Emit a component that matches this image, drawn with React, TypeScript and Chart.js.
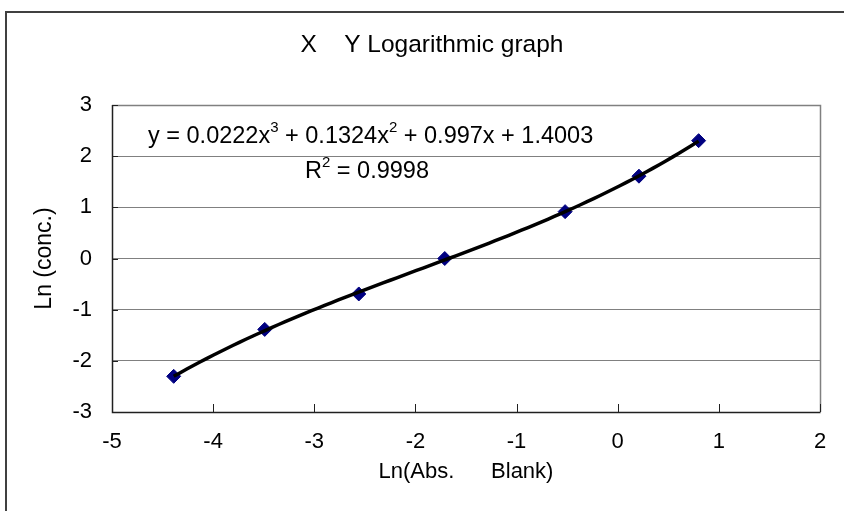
import { useEffect, useRef } from 'react';
import { Chart, registerables } from 'chart.js';

Chart.register(...registerables);

// Data
const xValues = [-4.39, -3.49, -2.56, -1.71, -0.52, 0.21, 0.8];
const yValues = [-2.303, -1.386, -0.693, 0, 0.916, 1.609, 2.303];
// Cubic trendline coefficients as printed on the chart: c0 + c1 x + c2 x^2 + c3 x^3
const trendCoefficients = [1.4003, 0.997, 0.1324, 0.0222];
const xTicks = [-5, -4, -3, -2, -1, 0, 1, 2];
const yTicks = [-3, -2, -1, 0, 1, 2, 3];
const chartTitle = 'X    Y Logarithmic graph';
const xAxisTitle = 'Ln(Abs.      Blank)';
const yAxisTitle = 'Ln (conc.)';
const equationParts: [string, boolean][] = [
  ['y = 0.0222x', false],
  ['3', true],
  [' + 0.1324x', false],
  ['2', true],
  [' + 0.997x + 1.4003', false],
];
const r2Parts: [string, boolean][] = [
  ['R', false],
  ['2', true],
  [' = 0.9998', false],
];

const FONT = "'Liberation Sans', Arial, sans-serif";
const TICK_SIZE = 22;
const TITLE_SIZE = 24.5;
const AXIS_TITLE_SIZE = 22;
const Y_TITLE_SIZE = 23;
const EQ_SIZE = 23.5;

function trendAt(x: number) {
  return trendCoefficients.reduce((s, c, i) => s + c * Math.pow(x, i), 0);
}

function buildTrend() {
  const pts: { x: number; y: number }[] = [];
  const x0 = xValues[0];
  const x1 = xValues[xValues.length - 1];
  const n = 80;
  for (let i = 0; i <= n; i++) {
    const x = x0 + ((x1 - x0) * i) / n;
    pts.push({ x, y: trendAt(x) });
  }
  return pts;
}

const framePlugin = {
  id: 'frame',
  beforeDatasetsDraw(chart: any) {
    const { ctx, chartArea: a } = chart;
    ctx.save();
    ctx.strokeStyle = '#808080';
    ctx.lineWidth = 1.5;
    ctx.beginPath();
    ctx.moveTo(a.left, a.top + 0.5);
    ctx.lineTo(a.right + 0.5, a.top + 0.5);
    ctx.lineTo(a.right + 0.5, a.bottom);
    ctx.stroke();
    ctx.strokeStyle = '#202020';
    ctx.lineWidth = 1.5;
    ctx.beginPath();
    ctx.moveTo(a.left + 0.5, a.top);
    ctx.lineTo(a.left + 0.5, a.bottom + 0.5);
    ctx.lineTo(a.right + 0.5, a.bottom + 0.5);
    ctx.stroke();
    const xs = chart.scales.x;
    ctx.lineWidth = 1;
    ctx.beginPath();
    for (const t of xTicks) {
      const px = Math.round(xs.getPixelForValue(t)) + 0.5;
      ctx.moveTo(px, a.bottom);
      ctx.lineTo(px, a.bottom - 8);
    }
    const ys = chart.scales.y;
    for (const t of yTicks) {
      const py = Math.round(ys.getPixelForValue(t)) + 0.5;
      ctx.moveTo(a.left, py);
      ctx.lineTo(a.left + 6, py);
    }
    ctx.stroke();
    ctx.restore();
  },
  afterDatasetsDraw(chart: any) {
    const { ctx, chartArea: a } = chart;
    const drawParts = (parts: [string, boolean][], x: number, y: number) => {
      for (const [txt, sup] of parts) {
        ctx.font = sup ? `${Math.round(EQ_SIZE * 0.64)}px ${FONT}` : `${EQ_SIZE}px ${FONT}`;
        ctx.fillText(txt, x, sup ? y - 9 : y);
        x += ctx.measureText(txt).width;
      }
    };
    ctx.save();
    ctx.fillStyle = '#000';
    ctx.textBaseline = 'middle';
    ctx.textAlign = 'left';
    drawParts(equationParts, a.left + 36, a.top + 32);
    drawParts(r2Parts, a.left + 193, a.top + 67);
    ctx.restore();
  },
};

export default function App() {
  const ref = useRef<HTMLCanvasElement | null>(null);

  useEffect(() => {
    if (!ref.current) return;
    const titleLH = TITLE_SIZE * 1.2;
    const chart = new Chart(ref.current, {
      type: 'scatter',
      data: {
        datasets: [
          {
            label: 'trend',
            type: 'line',
            data: buildTrend(),
            borderColor: '#000000',
            borderWidth: 3.5,
            pointRadius: 0,
            fill: false,
            tension: 0,
            order: 0,
          } as any,
          {
            label: 'data',
            data: xValues.map((x, i) => ({ x, y: yValues[i] })),
            pointStyle: 'rectRot',
            pointRadius: 7,
            pointBackgroundColor: '#000080',
            pointBorderColor: '#000080',
            pointBorderWidth: 1,
            showLine: false,
            order: 1,
          },
        ],
      },
      options: {
        animation: false,
        responsive: true,
        maintainAspectRatio: false,
        layout: { padding: 0 },
        plugins: {
          legend: { display: false },
          tooltip: { enabled: false },
          title: {
            display: true,
            text: chartTitle,
            color: '#000',
            font: { family: FONT, size: TITLE_SIZE, weight: 'normal' },
            padding: { top: 45 - titleLH / 2, bottom: 105 - (45 - titleLH / 2) - titleLH },
          },
        },
        scales: {
          x: {
            type: 'linear',
            min: -5,
            max: 2,
            afterBuildTicks: (s: any) => {
              s.ticks = xTicks.map((v) => ({ value: v }));
            },
            afterFit: (s: any) => {
              s.height = 99;
            },
            grid: { display: false, drawTicks: false },
            border: { display: false },
            ticks: {
              color: '#000',
              font: { family: FONT, size: TICK_SIZE },
              padding: 17,
              maxRotation: 0,
            },
            title: {
              display: true,
              text: xAxisTitle,
              color: '#000',
              font: { family: FONT, size: AXIS_TITLE_SIZE },
              padding: { top: 0, bottom: 39 - AXIS_TITLE_SIZE * 0.6 },
            },
          },
          y: {
            type: 'linear',
            min: -3,
            max: 3,
            afterBuildTicks: (s: any) => {
              s.ticks = yTicks.map((v) => ({ value: v }));
            },
            afterFit: (s: any) => {
              s.width = 112;
            },
            grid: { color: '#808080', lineWidth: 1, drawTicks: false },
            border: { display: false },
            ticks: {
              color: '#000',
              font: { family: FONT, size: TICK_SIZE },
              padding: 20,
            },
            title: {
              display: true,
              text: yAxisTitle,
              color: '#000',
              font: { family: FONT, size: Y_TITLE_SIZE },
              padding: { top: 45 - Y_TITLE_SIZE * 0.6, bottom: 0 },
            },
          },
          yRight: {
            type: 'linear',
            position: 'right',
            min: -3,
            max: 3,
            afterFit: (s: any) => {
              s.width = 44;
            },
            grid: { display: false, drawTicks: false },
            border: { display: false },
            ticks: { display: false },
          },
        },
      },
      plugins: [framePlugin],
    });
    return () => chart.destroy();
  }, []);

  return (
    <div
      style={{
        position: 'fixed',
        left: 0,
        top: 0,
        width: 844,
        height: 511,
        overflow: 'hidden',
        background: '#ffffff',
      }}
    >
      <div
        style={{
          position: 'absolute',
          left: 5,
          top: 11,
          width: 900,
          height: 600,
          border: '2px solid #404040',
          boxSizing: 'border-box',
        }}
      />
      <div style={{ position: 'absolute', left: 0, top: 0, width: 864, height: 511 }}>
        <canvas ref={ref} />
      </div>
    </div>
  );
}
